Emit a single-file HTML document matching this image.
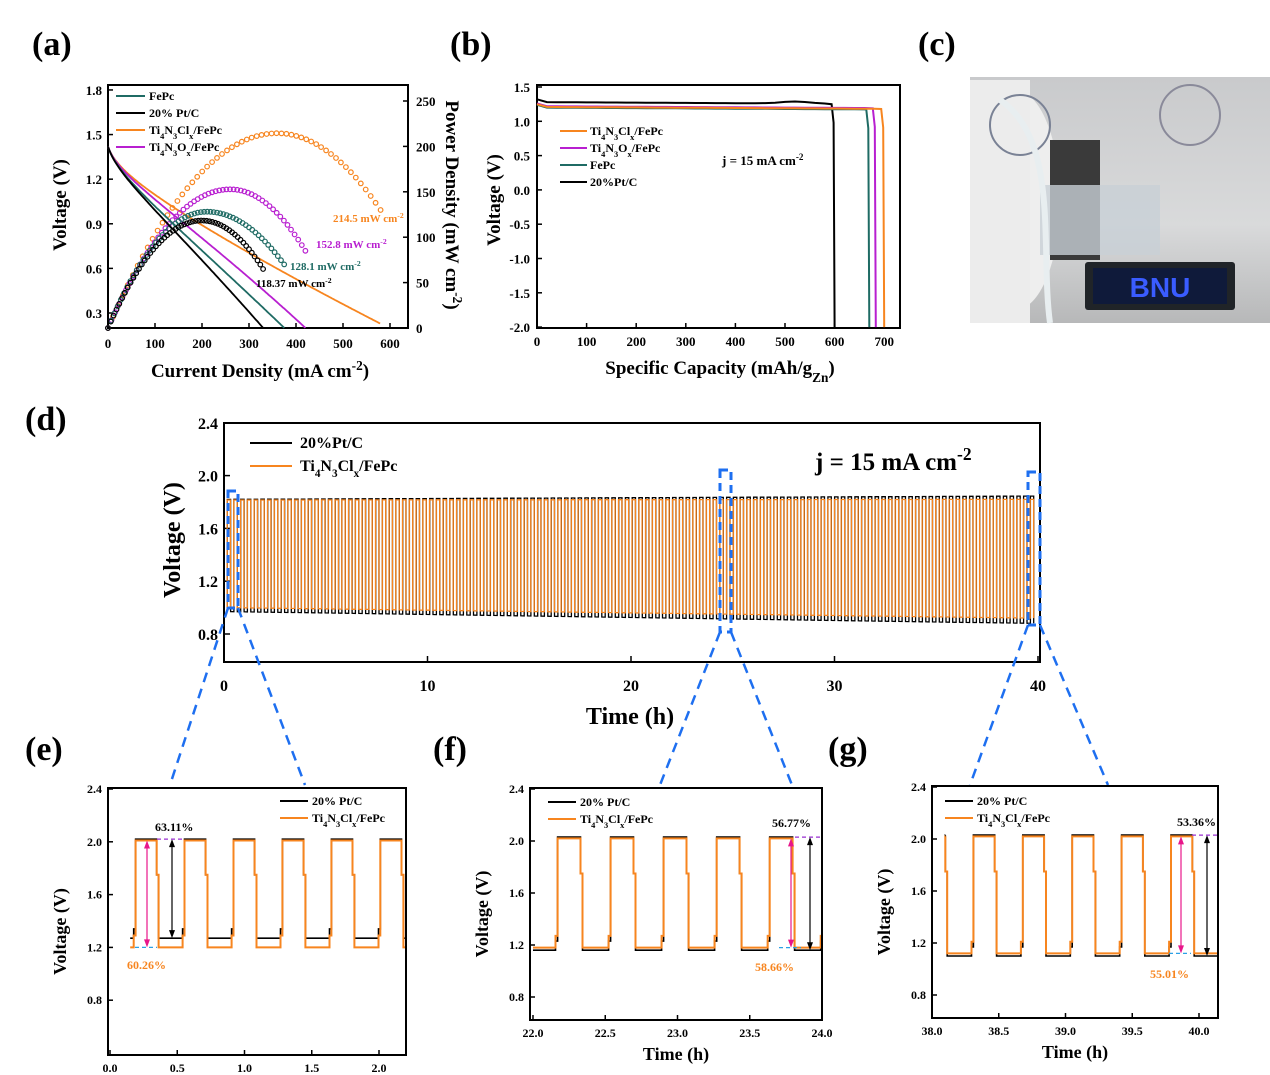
<!DOCTYPE html>
<html><head><meta charset="utf-8"><style>
body{margin:0;background:#fff}
svg{display:block;font-family:"Liberation Serif",serif;font-weight:bold}
</style></head><body>
<svg id="s" width="1270" height="1075" viewBox="0 0 1270 1075" xmlns="http://www.w3.org/2000/svg">
<g font-size="34">
<text x="32" y="55">(a)</text><text x="450" y="55">(b)</text><text x="918" y="55">(c)</text>
<text x="25" y="430">(d)</text><text x="25" y="760">(e)</text><text x="433" y="760">(f)</text><text x="828" y="760">(g)</text>
</g>
<defs><linearGradient id="bg" x1="0" y1="0" x2="0" y2="1"><stop offset="0" stop-color="#c9cacc"/><stop offset="0.6" stop-color="#d9dadb"/><stop offset="1" stop-color="#b7b8b9"/></linearGradient>
<clipPath id="ce"><rect x="109" y="789" width="296" height="265"/></clipPath>
<clipPath id="cf"><rect x="531" y="789" width="290" height="230"/></clipPath>
<clipPath id="cg"><rect x="933" y="787" width="284" height="230"/></clipPath>
</defs>
<rect x="970" y="77" width="300" height="246" fill="url(#bg)"/>
<ellipse cx="1015" cy="200" rx="45" ry="110" fill="#eeeeee"/>
<rect x="970" y="80" width="60" height="243" fill="#ececec"/>
<circle cx="1020" cy="125" r="30" fill="none" stroke="#7a8295" stroke-width="2"/>
<circle cx="1190" cy="115" r="30" fill="none" stroke="#8a8a9a" stroke-width="2"/>
<rect x="1050" y="140" width="50" height="120" fill="#3a3a3a"/>
<rect x="1040" y="185" width="120" height="70" fill="#c8cfd6" opacity="0.8"/>
<rect x="1085" y="262" width="150" height="48" rx="3" fill="#202428"/>
<rect x="1093" y="268" width="134" height="36" fill="#0f1a3a"/>
<text x="1160" y="297" font-size="28" fill="#3a5cff" text-anchor="middle" font-family="Liberation Sans">BNU</text>
<path d="M1000 100 C1060 140 1040 250 1050 323" stroke="#e8eef0" stroke-width="6" fill="none"/>
<g id="g"></g>
</svg>
<script>
const G=document.getElementById('g');
let H='';
function L(x1,y1,x2,y2,c,w,d){H+=`<line x1="${x1}" y1="${y1}" x2="${x2}" y2="${y2}" stroke="${c||'#000'}" stroke-width="${w||1.5}" ${d?`stroke-dasharray="${d}"`:''}/>`;}
function T(x,y,t,s,a,ex){H+=`<text x="${x}" y="${y}" font-size="${s}" text-anchor="${a||'start'}" ${ex||''}>${t}</text>`;}
function P(pts,c,w,cl){H+=`<polyline points="${pts.map(p=>p[0].toFixed(1)+','+p[1].toFixed(1)).join(' ')}" fill="none" stroke="${c}" stroke-width="${w||1.5}" ${cl?`clip-path="url(#${cl})"`:''}/>`;}
function box(x1,y1,x2,y2){H+=`<rect x="${x1}" y="${y1}" width="${x2-x1}" height="${y2-y1}" fill="none" stroke="#000" stroke-width="2"/>`;}
const OR='#f7851f',PU='#b81fd0',TE='#1f6b64',BK='#000';
const TNC=`Ti<tspan baseline-shift="sub" font-size="70%">4</tspan>N<tspan baseline-shift="sub" font-size="70%">3</tspan>Cl<tspan baseline-shift="sub" font-size="70%">x</tspan>/FePc`;
const TNO=`Ti<tspan baseline-shift="sub" font-size="70%">4</tspan>N<tspan baseline-shift="sub" font-size="70%">3</tspan>O<tspan baseline-shift="sub" font-size="70%">x</tspan>/FePc`;

// ---------- (a)
{const X=j=>108+j*0.47,Y=v=>313-(v-0.3)*148.7,YP=p=>328-p*0.908;
box(108,85,408,328);
[0,100,200,300,400,500,600].forEach(v=>{L(X(v),328,X(v),323);T(X(v),348,v,13,'middle')});
[0.3,0.6,0.9,1.2,1.5,1.8].forEach(v=>{L(108,Y(v),113,Y(v));T(102,Y(v)+5,v.toFixed(1),13,'end')});
[0,50,100,150,200,250].forEach(v=>{L(408,YP(v),403,YP(v));T(416,YP(v)+5,v,13)});
T(0,0,'Voltage (V)',19,'middle','transform="translate(66,205) rotate(-90)"');
T(0,0,'Power Density (mW cm<tspan baseline-shift="super" font-size="70%">-2</tspan>)',19,'middle','transform="translate(446,205) rotate(90)"');
T(260,377,'Current Density (mA cm<tspan baseline-shift="super" font-size="70%">-2</tspan>)',19,'middle');
const pol=(jmax,v0,a,b,c)=>{let p=[];for(let j=0;j<=jmax;j+=3){let v=v0-a*Math.log(1+j/8)-b*j-c*j*j;p.push([j,v]);}return p;};
const curves=[[OR,580,1.42,0.06,0.0017,0.0000003],[PU,420,1.42,0.06,0.0019,0.0000012],[TE,375,1.42,0.06,0.0024,0.0000008],[BK,330,1.42,0.06,0.0026,0.0000012]];
const pk=[214.5,152.8,128.1,118.37],pj=[360,260,210,200];
curves.forEach((c,i)=>{let p=pol(c[1],c[2],c[3],c[4],c[5]);let v1=p[p.length-1][1];let tgt=[0.23,0.2,0.2,0.2][i];
p=p.map(q=>[q[0],q[1]-(v1-tgt)*Math.pow(q[0]/c[1],2)]);P(p.map(q=>[X(q[0]),Y(q[1])]),c[0],1.8);
let jm=c[1];for(let j=0;j<=jm;j+=jm/55){let t=j/pj[i];let pw;if(j<=pj[i])pw=pk[i]*(2*t-t*t);else{let u=(j-pj[i])/(jm-pj[i]);pw=pk[i]-(pk[i]-[130,85,70,65][i])*u*u;}
H+=`<circle cx="${X(j).toFixed(1)}" cy="${YP(pw).toFixed(1)}" r="2.3" fill="none" stroke="${c[0]}" stroke-width="1.2"/>`;}});
[['FePc',TE],['20% Pt/C',BK],[TNC,OR],[TNO,PU]].forEach((e,i)=>{let y=96+i*17;L(116,y,145,y,e[1],2);T(149,y+4,e[0],12)});
T(333,222,'214.5 mW cm<tspan baseline-shift="super" font-size="70%">-2</tspan>',11,'start',`fill="${OR}"`);
T(316,248,'152.8 mW cm<tspan baseline-shift="super" font-size="70%">-2</tspan>',11,'start',`fill="${PU}"`);
T(290,270,'128.1 mW cm<tspan baseline-shift="super" font-size="70%">-2</tspan>',11,'start',`fill="${TE}"`);
T(256,287,'118.37 mW cm<tspan baseline-shift="super" font-size="70%">-2</tspan>',11);
}
// ---------- (b)
{const X=c=>537+c*0.496,Y=v=>87+(1.5-v)*68.6;
box(537,85,900,328);
[0,100,200,300,400,500,600,700].forEach(v=>{L(X(v),328,X(v),323);T(X(v),346,v,13,'middle')});
[1.5,1.0,0.5,0.0,-0.5,-1.0,-1.5,-2.0].forEach(v=>{L(537,Y(v),542,Y(v));T(530,Y(v)+5,v.toFixed(1),13,'end')});
T(0,0,'Voltage (V)',19,'middle','transform="translate(500,200) rotate(-90)"');
T(720,374,'Specific Capacity (mAh/g<tspan baseline-shift="sub" font-size="70%">Zn</tspan>)',19,'middle');
const dr=(end,v,c,bump)=>{let p=[[0,v+0.04],[20,v]];for(let x=40;x<end-8;x+=20)p.push([x,v+(bump?0.03*Math.exp(-Math.pow((x-520)/40,2)):0)-x*0.00004]);p.push([end-6,v-0.03],[end-2,v-0.3],[end,-2.0]);P(p.map(q=>[X(q[0]),Y(q[1])]),c,2);};
dr(600,1.28,BK,1);dr(670,1.2,TE);dr(683,1.22,PU);dr(700,1.21,OR);
[[TNC,OR],[TNO,PU],['FePc',TE],['20%Pt/C',BK]].forEach((e,i)=>{let y=131+i*17;L(560,y,587,y,e[1],2);T(590,y+4,e[0],12)});
T(722,165,'j = 15 mA cm<tspan baseline-shift="super" font-size="70%">-2</tspan>',13);
}
// ---------- (d)
{const X=t=>224+t*20.35,Y=v=>634-(v-0.8)*132;
box(224,423,1040,662);
[0,10,20,30,40].forEach(v=>{L(X(v),662,X(v),656);T(X(v),691,v,16,'middle')});
[0.8,1.2,1.6,2.0,2.4].forEach(v=>{L(224,Y(v),230,Y(v));T(218,Y(v)+6,v.toFixed(1),16,'end')});
T(0,0,'Voltage (V)',24,'middle','transform="translate(180,540) rotate(-90)"');
T(630,724,'Time (h)',24,'middle');
const N=120,per=39.8/N;
[[BK,0.97,0.88,1.82,1.845,0.04],[OR,1.0,0.92,1.815,1.82,0]].forEach(c=>{let p=[];for(let k=0;k<N;k++){let t0=0.15+k*per+c[5]*per/2,f=k/N;let lo=c[1]+(c[2]-c[1])*f,hi=c[3]+(c[4]-c[3])*f;
p.push([X(t0),Y(lo)],[X(t0),Y(hi)],[X(t0+per/2),Y(hi)],[X(t0+per/2),Y(lo)]);}P(p,c[0],1.3);});
L(250,443,292,443,BK,2);T(300,448,'20%Pt/C',16);L(250,466,292,466,OR,2);T(300,471,TNC,16);
T(815,470,'j = 15 mA cm<tspan baseline-shift="super" font-size="70%">-2</tspan>',25);
const B='#1e6ff0';
[[228,491,238,608],[720,470,731,632],[1028,472,1040,625]].forEach(r=>{H+=`<rect x="${r[0]}" y="${r[1]}" width="${r[2]-r[0]}" height="${r[3]-r[1]}" fill="none" stroke="${B}" stroke-width="3" stroke-dasharray="8,5"/>`});
L(228,608,170,785,B,2.5,'10,7');L(238,608,305,785,B,2.5,'10,7');
L(720,632,660,785,B,2.5,'10,7');L(731,632,792,785,B,2.5,'10,7');
L(1028,625,970,785,B,2.5,'10,7');L(1040,625,1108,785,B,2.5,'10,7');
}
// ---------- e f g
function zp(o){const X=t=>o.x0+(t-o.t0)*o.sx,Y=v=>o.y24+(2.4-v)*o.sy;
box(o.bx1,o.by1,o.bx2,o.by2);
o.xt.forEach(v=>{L(X(v),o.by2,X(v),o.by2-5);T(X(v),o.by2+17,v.toFixed(1),12,'middle')});
[0.8,1.2,1.6,2.0,2.4].forEach(v=>{L(o.bx1,Y(v),o.bx1+5,Y(v));T(o.bx1-6,Y(v)+4,v.toFixed(1),12,'end')});
T(0,0,'Voltage (V)',18,'middle',`transform="translate(${o.bx1-42},${(o.by1+o.by2)/2+10}) rotate(-90)"`);
T((o.bx1+o.bx2)/2,o.by2+40,'Time (h)',18,'middle');
const w=0.014,hw=o.per*0.47;
[[BK,o.bl,o.bh,0.07],[OR,o.ol,o.oh,0.09]].forEach(c=>{let lo=c[1],hi=c[2],st=lo+c[3];let p=[];
for(let k=-1;k<9;k++){let t0=o.tf+k*o.per,t1=t0+hw;
p.push([X(t0-o.per+hw+0.001),Y(lo)],[X(t0-w),Y(lo)],[X(t0-w),Y(st)],[X(t0),Y(st)],[X(t0),Y(hi)],[X(t1-w),Y(hi)],[X(t1-w),Y(1.75)],[X(t1),Y(1.75)],[X(t1),Y(lo)]);}
p=p.filter(q=>q[0]>=X(o.ts)-0.5);p.unshift([X(o.ts),p[0][1]]);
P(p,c[0],c[0]==OR?2:1.6,o.cl);});
L(o.lx,o.ly,o.lx+28,o.ly,BK,2);T(o.lx+32,o.ly+4,'20% Pt/C',12);L(o.lx,o.ly+17,o.lx+28,o.ly+17,OR,2);T(o.lx+32,o.ly+21,TNC,12);
L(o.ax1,Y(o.oh)+4,o.ax1,Y(o.ol)-4,'#e8168a',1.2);L(o.ax2,Y(o.bh)+4,o.ax2,Y(o.bl)-4,BK,1.2);
H+=`<path d="M${o.ax1-3} ${Y(o.oh)+8}L${o.ax1} ${Y(o.oh)}L${o.ax1+3} ${Y(o.oh)+8}ZM${o.ax1-3} ${Y(o.ol)-8}L${o.ax1} ${Y(o.ol)}L${o.ax1+3} ${Y(o.ol)-8}Z" fill="#e8168a"/>`;
H+=`<path d="M${o.ax2-3} ${Y(o.bh)+8}L${o.ax2} ${Y(o.bh)}L${o.ax2+3} ${Y(o.bh)+8}ZM${o.ax2-3} ${Y(o.bl)-8}L${o.ax2} ${Y(o.bl)}L${o.ax2+3} ${Y(o.bl)-8}Z" fill="#000"/>`;
L(o.ax1-12,Y(o.ol),o.ax1+10,Y(o.ol),'#2aa0e6',1.2,'4,3');L(o.ax2-15,Y(o.bh),o.ax2+12,Y(o.bh),'#9a2fd0',1.2,'4,3');
T(o.p1[0],o.p1[1],o.p1[2],12);T(o.p2[0],o.p2[1],o.p2[2],12,'start',`fill="${OR}"`);}
zp({cl:'ce',bx1:108,by1:788,bx2:406,by2:1055,x0:110,t0:0,sx:134.5,y24:789,sy:132,xt:[0,0.5,1,1.5,2],ts:0.15,tf:0.19,per:0.364,te:2.2,bl:1.27,bh:2.02,ol:1.2,oh:2.01,lx:280,ly:801,ax1:147,ax2:172,p1:[155,831,'63.11%'],p2:[127,969,'60.26%']});
zp({cl:'cf',bx1:530,by1:788,bx2:822,by2:1020,x0:533,t0:22,sx:144.5,y24:789,sy:130,xt:[22,22.5,23,23.5,24],ts:22.0,tf:22.17,per:0.367,te:24.05,bl:1.16,bh:2.03,ol:1.18,oh:2.02,lx:548,ly:802,ax1:791,ax2:810,p1:[772,827,'56.77%'],p2:[755,971,'58.66%']});
zp({cl:'cg',bx1:932,by1:786,bx2:1218,by2:1018,x0:932,t0:38,sx:133.5,y24:787,sy:130,xt:[38,38.5,39,39.5,40],ts:38.1,tf:38.31,per:0.37,te:40.15,bl:1.10,bh:2.03,ol:1.12,oh:2.02,lx:945,ly:801,ax1:1181,ax2:1207,p1:[1177,826,'53.36%'],p2:[1150,978,'55.01%']});
G.innerHTML=H;
</script>
</body></html>
